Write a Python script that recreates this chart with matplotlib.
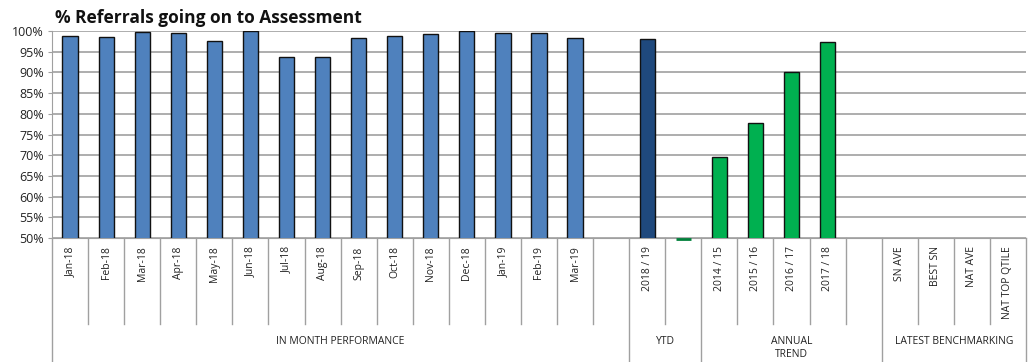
import matplotlib
matplotlib.use("Agg")
import matplotlib.pyplot as plt
import matplotlib.transforms as mtransforms

# ---- data ----
month_labels = ['Jan-18', 'Feb-18', 'Mar-18', 'Apr-18', 'May-18', 'Jun-18', 'Jul-18',
                'Aug-18', 'Sep-18', 'Oct-18', 'Nov-18', 'Dec-18', 'Jan-19', 'Feb-19', 'Mar-19', '']
month_values = [98.9, 98.6, 99.8, 99.5, 97.7, 100.0, 93.8, 93.7, 98.3, 98.9, 99.3, 99.9,
                99.4, 99.6, 98.2, None]
ytd_labels = ['2018 / 19', '']
ytd_values = [98.1, None]
annual_labels = ['2014 / 15', '2015 / 16', '2016 / 17', '2017 / 18', '']
annual_values = [69.6, 77.7, 90.0, 97.3, None]
annual_stub_value = 49.85   # tiny green mark in the blank YTD slot
bench_labels = ['SN AVE', 'BEST SN', 'NAT AVE', 'NAT TOP QTILE']
bench_values = [None, None, None, None]
group_names = ['IN MONTH PERFORMANCE', 'YTD', 'ANNUAL\nTREND', 'LATEST BENCHMARKING']
yticks = [50, 55, 60, 65, 70, 75, 80, 85, 90, 95, 100]

plt.rcParams['font.family'] = ['Open Sans', 'DejaVu Sans']

W, H = 1034, 362
fig = plt.figure(figsize=(W / 100, H / 100), dpi=100)
L, R, T, B = 52, 1026, 31, 238
ax = fig.add_axes([L / W, (H - B) / H, (R - L) / W, (B - T) / H])

groups = [(month_labels, month_values), (ytd_labels, ytd_values),
          (annual_labels, annual_values), (bench_labels, bench_values)]
all_labels = []
starts = []
for labs, _ in groups:
    starts.append(len(all_labels))
    all_labels += labs
n = len(all_labels)

bw = 0.42
def draw(start, vals, color):
    xs = [start + i for i, v in enumerate(vals) if v is not None]
    hs = [v for v in vals if v is not None]
    ax.bar(xs, hs, width=bw, color=color, edgecolor='#111111', linewidth=1.0, zorder=3)

draw(starts[0], month_values, '#4F81BD')
draw(starts[1], ytd_values, '#1F497D')
draw(starts[2], annual_values, '#00B050')
ax.bar([starts[1] + 1], [0], bottom=annual_stub_value, width=bw, color='#00B050',
       edgecolor='#00803A', linewidth=2.0, zorder=4, clip_on=False)

ax.set_xlim(-0.5, n - 0.5)
ax.set_ylim(50, 100)
ax.set_yticks(yticks)
ax.set_yticklabels([f'{v}%' for v in yticks], fontsize=9, color='#222222')
ax.yaxis.grid(True, color='#A0A0A0', linewidth=1.2, zorder=0)
ax.set_axisbelow(True)
for s in ['top', 'right']:
    ax.spines[s].set_visible(False)
ax.spines['left'].set_color('#A0A0A0')
ax.spines['bottom'].set_color('#A0A0A0')
ax.tick_params(axis='y', length=3, color='#A0A0A0', pad=3)

ax.set_xticks(range(n))
ax.set_xticklabels(all_labels, rotation=90, fontsize=7.5, va='top', ha='center',
                   color='#222222')
ax.tick_params(axis='x', length=0, pad=6)

trans = mtransforms.blended_transform_factory(ax.transData, ax.transAxes)
ah = B - T
short_y = -(324 - B) / ah
long_y = -(362 - B) / ah
group_bounds = set(starts + [n])
for b in range(n + 1):
    x = b - 0.5
    y1 = long_y if b in group_bounds else short_y
    ax.plot([x, x], [0, y1], transform=trans, color='#A0A0A0', linewidth=1.0,
            clip_on=False)

ends = starts[1:] + [n]
for name, s, e in zip(group_names, starts, ends):
    ax.text((s + e) / 2 - 0.5, -(336 - B) / ah, name, transform=trans, ha='center',
            va='top', fontsize=7.5, color='#222222', linespacing=1.25)

fig.text(55 / W, 1 - 18 / H, '% Referrals going on to Assessment', fontsize=12.5,
         fontweight='bold', ha='left', va='center', color='#111111')

fig.savefig('out.png', dpi=100)
